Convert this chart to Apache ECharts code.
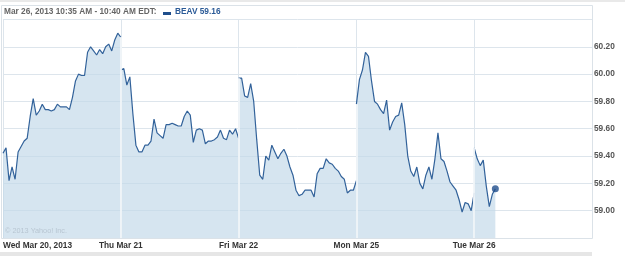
<!DOCTYPE html>
<html>
<head>
<meta charset="utf-8">
<script src="https://cdn.jsdelivr.net/npm/echarts@6/dist/echarts.min.js"></script>
<style>html,body{margin:0;padding:0;background:#fff;}#c{width:625px;height:256px;}</style>
</head>
<body>
<div id="c"></div>
<script>
// Day labels (x-axis ticks)
const dayLabels = ['Wed Mar 20, 2013', 'Thu Mar 21', 'Fri Mar 22', 'Mon Mar 25', 'Tue Mar 26'];
// BEAV price, 10-minute steps from 9:30 to 16:00 per session
const wed = [59.42,59.46,59.22,59.32,59.23,59.43,59.47,59.51,59.53,59.69,
             59.82,59.70,59.73,59.78,59.74,59.74,59.73,59.74,59.78,59.76,
             59.76,59.76,59.74,59.83,59.95,60.00,59.99,59.99,60.16,60.20,
             60.17,60.14,60.18,60.15,60.20,60.22,60.17,60.25,60.30,60.27];
const thu = [60.03,60.04,59.92,59.98,59.71,59.48,59.43,59.43,59.48,59.48,
             59.51,59.67,59.57,59.55,59.53,59.63,59.63,59.64,59.63,59.62,
             59.62,59.69,59.73,59.70,59.50,59.59,59.60,59.59,59.49,59.51,
             59.51,59.52,59.54,59.59,59.53,59.52,59.59,59.56,59.60,59.53];
const fri = [59.97,59.97,59.84,59.83,59.93,59.80,59.52,59.26,59.23,59.40,
             59.37,59.48,59.43,59.38,59.42,59.45,59.40,59.32,59.26,59.15,
             59.11,59.12,59.15,59.15,59.15,59.10,59.27,59.31,59.31,59.38,
             59.35,59.34,59.31,59.29,59.25,59.23,59.13,59.15,59.15,59.22];
const mon = [59.78,59.96,60.03,60.16,60.13,59.95,59.80,59.78,59.74,59.71,
             59.81,59.59,59.65,59.69,59.70,59.79,59.63,59.40,59.29,59.25,
             59.32,59.20,59.16,59.26,59.32,59.23,59.38,59.57,59.38,59.36,
             59.29,59.21,59.18,59.15,59.08,58.99,59.06,59.05,59.00,59.13];
const tue = [59.46,59.38,59.33,59.37,59.18,59.03,59.12,59.16];
const yTicks = ['59.00','59.20','59.40','59.60','59.80','60.00','60.20'];

const sessions = [wed, thu, fri, mon, tue];
const STEPS = 39; // 10-minute steps per session
const Y_MIN = 58.8, Y_MAX = 60.4;
const lineColor = '#32629a';

const series = sessions.map((arr, d) => ({
  type: 'line',
  data: arr.map((v, i) => [d * STEPS + i, v]),
  showSymbol: false,
  symbol: 'none',
  lineStyle: { color: lineColor, width: 1.2 },
  areaStyle: { color: 'rgba(195,217,233,0.68)', opacity: 1, origin: 'start' },
  silent: true,
  z: 2
}));
const last = tue.length - 1;
const bLine = { color: '#f1f5f9', width: 1.8, type: 'solid' };
const boundaries = [];
for (let d = 1; d < sessions.length; d++) {
  const prev = sessions[d - 1];
  const top = Math.max(prev[prev.length - 1], sessions[d][0]);
  boundaries.push([{ coord: [d * STEPS, Y_MIN], lineStyle: bLine }, { coord: [d * STEPS, top] }]);
}
series.push({
  type: 'scatter',
  data: [[4 * STEPS + last, tue[last]]],
  symbolSize: 7,
  itemStyle: { color: '#1f4e8c' },
  z: 6,
  markLine: { silent: true, symbol: 'none', label: { show: false }, data: boundaries }
});

const chart = echarts.init(document.getElementById('c'), null, { renderer: 'canvas' });
const font = '"Liberation Sans", Arial, sans-serif';
chart.setOption({
  animation: false,
  backgroundColor: '#ffffff',
  grid: { left: 2, right: 33, top: 19.5, bottom: 18 },
  xAxis: {
    type: 'value', min: 0, max: 5 * STEPS, interval: STEPS,
    axisLine: { show: false }, axisTick: { show: false },
    splitLine: { show: true, lineStyle: { color: '#dde5ec', width: 1 } },
    axisLabel: {
      formatter: v => dayLabels[Math.round(v / STEPS)] && v < 5 * STEPS ? dayLabels[Math.round(v / STEPS)] : '',
      alignMinLabel: 'left', showMaxLabel: false,
      fontFamily: font, fontWeight: 'bold', fontSize: 8.3, color: '#333', margin: 4
    }
  },
  yAxis: {
    type: 'value', position: 'right', min: Y_MIN, max: Y_MAX, interval: 0.2,
    axisLine: { show: false }, axisTick: { show: false },
    splitLine: { show: true, lineStyle: { color: '#dde5ec', width: 1 } },
    axisLabel: {
      formatter: v => { const s = v.toFixed(2); return yTicks.includes(s) ? s : ''; },
      fontFamily: font, fontWeight: 'bold', fontSize: 8.3, color: '#555', margin: 2
    }
  },
  graphic: [
    { type: 'rect', z: 0, shape: { x: 0, y: 0, width: 625, height: 2 }, style: { fill: '#e9e9e9' } },
    { type: 'rect', z: 0, shape: { x: 0, y: 252, width: 592, height: 4 }, style: { fill: '#e6e6e6' } },
    { type: 'rect', z: 10, shape: { x: 1.5, y: 5.5, width: 591, height: 233 }, style: { fill: null, stroke: '#dbe2e8', lineWidth: 1 } },
    { type: 'text', z: 10, left: 4, top: 8, style: { text: 'Mar 26, 2013 10:35 AM - 10:40 AM EDT:', font: 'bold 8.3px ' + font, fill: '#666' } },
    { type: 'rect', z: 10, shape: { x: 163, y: 12, width: 8, height: 3 }, style: { fill: '#1f4e8c' } },
    { type: 'text', z: 10, left: 175, top: 8, style: { text: 'BEAV 59.16', font: 'bold 8.3px ' + font, fill: '#2a5a97' } },
    { type: 'text', z: 10, left: 5, top: 227, style: { text: '© 2013 Yahoo! Inc.', font: '7.3px ' + font, fill: '#b8c6d2' } }
  ],
  series: series
});
</script>
</body>
</html>
